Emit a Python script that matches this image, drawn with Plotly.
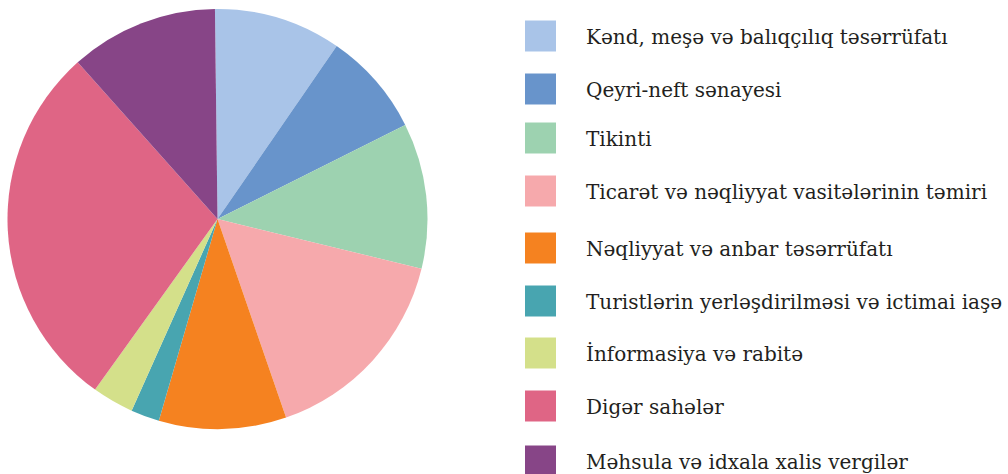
import plotly.graph_objects as go

labels = [
    "Kənd, meşə və balıqçılıq təsərrüfatı",
    "Qeyri-neft sənayesi",
    "Tikinti",
    "Ticarət və nəqliyyat vasitələrinin təmiri",
    "Nəqliyyat və anbar təsərrüfatı",
    "Turistlərin yerləşdirilməsi və ictimai iaşə",
    "İnformasiya və rabitə",
    "Digər sahələr",
    "Məhsula və idxala xalis vergilər",
]
values = [9.8, 8.0, 11.2, 15.9, 9.8, 2.2, 3.2, 28.5, 11.4]
colors = ["#a9c4e8", "#6894cb", "#9dd2b0", "#f6a9ac", "#f58220",
          "#48a5b0", "#d4e08a", "#df6585", "#874587"]

W, H = 1008, 474
# legend layout (pixel rows)
legend_y = [36, 89, 138, 191, 248, 301, 353, 406, 461]
sq = 31
sq_x0 = 525
text_x = 584

fig = go.Figure(go.Pie(
    labels=labels, values=values, sort=False, direction="clockwise",
    rotation=-0.7,
    marker=dict(colors=colors, line=dict(width=0)),
    textinfo="none", showlegend=False,
    domain=dict(x=[7.5 / W, 427.5 / W], y=[1 - 429 / H, 1 - 9 / H]),
))

shapes = []
annotations = []
for lab, col, yc in zip(labels, colors, legend_y):
    shapes.append(dict(type="rect", xref="paper", yref="paper",
                       x0=sq_x0 / W, x1=(sq_x0 + sq) / W,
                       y0=1 - (yc + sq / 2) / H, y1=1 - (yc - sq / 2) / H,
                       fillcolor=col, line=dict(width=0)))
    annotations.append(dict(text=lab, xref="paper", yref="paper",
                            x=text_x / W, y=1 - (yc + 1) / H, xanchor="left",
                            yanchor="middle", showarrow=False,
                            font=dict(family="DejaVu Serif", size=20, color="#231f20")))

fig.update_layout(width=W, height=H, margin=dict(l=0, r=0, t=0, b=0),
                  paper_bgcolor="white", plot_bgcolor="white",
                  shapes=shapes, annotations=annotations)
fig.write_html("out.html")
